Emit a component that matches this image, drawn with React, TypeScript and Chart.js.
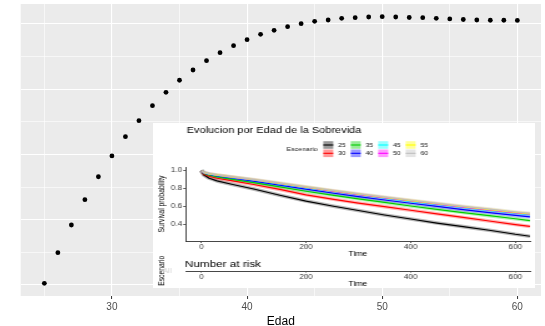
import React, { useEffect, useRef } from 'react';
import { Chart, registerables } from 'chart.js';

Chart.register(...registerables);

const FONT = "'Liberation Sans', Arial, Helvetica, sans-serif";

// ---- main scatter (Edad) ----
const edades = [25, 26, 27, 28, 29, 30, 31, 32, 33, 34, 35, 36, 37, 38, 39, 40, 41, 42, 43, 44, 45, 46, 47, 48, 49, 50, 51, 52, 53, 54, 55, 56, 57, 58, 59, 60];
const valores = [1.026, 1.495, 1.919, 2.306, 2.658, 2.976, 3.271, 3.516, 3.746, 3.951, 4.135, 4.292, 4.435, 4.557, 4.665, 4.756, 4.839, 4.9, 4.956, 5.002, 5.038, 5.058, 5.084, 5.093, 5.104, 5.109, 5.104, 5.096, 5.093, 5.084, 5.074, 5.066, 5.058, 5.054, 5.054, 5.051];
const ejeXTicks = [25, 30, 35, 40, 45, 50, 55, 60];
const ejeYGrid = [1, 1.5, 2, 2.5, 3, 3.5, 4, 4.5, 5];
const tituloX = 'Edad';

// ---- inset survival plot ----
const tituloInset = 'Evolucion por Edad de la Sobrevida';
const leyendaTitulo = 'Escenario';
const escenarios = ['25', '30', '35', '40', '45', '50', '55', '60'];
const colores = ['#000000', '#FF0000', '#00CD00', '#0000FF', '#00FFFF', '#FF00FF', '#FFFF00', '#BEBEBE'];
const tiempos = [0, 5, 15, 30, 60, 100, 150, 200, 250, 300, 350, 400, 450, 500, 550, 600, 628];
const surv25 = [1.0, 0.95, 0.915, 0.885, 0.845, 0.795, 0.725, 0.66, 0.605, 0.555, 0.505, 0.46, 0.415, 0.375, 0.335, 0.29, 0.268];
const surv30 = [1.0, 0.96, 0.937, 0.915, 0.885, 0.845, 0.79, 0.73, 0.682, 0.638, 0.598, 0.558, 0.518, 0.478, 0.438, 0.398, 0.377];
const surv35 = [1.0, 0.968, 0.95, 0.93, 0.902, 0.866, 0.818, 0.77, 0.727, 0.685, 0.645, 0.605, 0.568, 0.532, 0.497, 0.463, 0.443];
const surv40 = [1.0, 0.972, 0.956, 0.94, 0.915, 0.882, 0.838, 0.793, 0.75, 0.71, 0.672, 0.636, 0.6, 0.565, 0.532, 0.5, 0.485];
const surv45 = [1.0, 0.975, 0.96, 0.946, 0.922, 0.892, 0.85, 0.808, 0.767, 0.728, 0.69, 0.655, 0.62, 0.586, 0.554, 0.522, 0.507];
const surv50 = [1.0, 0.976, 0.962, 0.948, 0.925, 0.895, 0.854, 0.812, 0.772, 0.733, 0.696, 0.661, 0.626, 0.592, 0.56, 0.528, 0.513];
const surv55 = [1.0, 0.977, 0.963, 0.95, 0.927, 0.898, 0.857, 0.816, 0.776, 0.737, 0.7, 0.665, 0.63, 0.597, 0.565, 0.533, 0.518];
const surv60 = [1.0, 0.978, 0.964, 0.951, 0.929, 0.9, 0.86, 0.819, 0.779, 0.741, 0.704, 0.669, 0.635, 0.602, 0.57, 0.538, 0.523];
const survTicksY = [0.4, 0.6, 0.8, 1.0];
const tiempoTicks = [0, 200, 400, 600];
const tituloTiempo = 'Time';
const tituloSurvY = 'Survival probability';

// ---- risk table ----
const tituloRiesgo = 'Number at risk';
const riesgoEstratos = ['All'];

const series = [surv25, surv30, surv35, surv40, surv45, surv50, surv55, surv60];

function hexA(hex: string, a: number) {
  const n = parseInt(hex.slice(1), 16);
  return `rgba(${(n >> 16) & 255},${(n >> 8) & 255},${n & 255},${a})`;
}

const panelBg = {
  id: 'panelBg',
  beforeDraw(chart: any) {
    const { ctx, chartArea } = chart;
    ctx.save();
    ctx.fillStyle = '#EBEBEB';
    ctx.fillRect(chartArea.left, chartArea.top, chartArea.right - chartArea.left, chartArea.bottom - chartArea.top);
    ctx.restore();
  },
};

const survDecor = {
  id: 'survDecor',
  afterDraw(chart: any) {
    const ctx = chart.ctx;
    ctx.save();
    ctx.textBaseline = 'middle';
    ctx.textAlign = 'left';
    ctx.fillStyle = '#000';
    ctx.font = `8.8px ${FONT}`;
    ctx.fillText(tituloInset, 27, 7.5);
    ctx.font = `5.6px ${FONT}`;
    ctx.fillStyle = '#1A1A1A';
    ctx.textAlign = 'right';
    ctx.fillText(leyendaTitulo, 131.9, 26.3);
    escenarios.forEach((lab, g) => {
      const col = Math.floor(g / 2);
      const row = g % 2;
      const x = 136.4 + col * 22;
      const yc = 22 + row * 8.3;
      ctx.fillStyle = hexA(colores[g], 0.4);
      ctx.fillRect(x, yc - 3.8, 8, 7.6);
      ctx.strokeStyle = colores[g];
      ctx.lineWidth = 1.1;
      ctx.beginPath();
      ctx.moveTo(x, yc);
      ctx.lineTo(x + 8, yc);
      ctx.stroke();
      ctx.fillStyle = '#1A1A1A';
      ctx.textAlign = 'left';
      ctx.fillText(lab, x + 11.8, yc);
    });
    ctx.restore();
  },
};

const riskDecor = {
  id: 'riskDecor',
  afterDraw(chart: any) {
    const ctx = chart.ctx;
    ctx.save();
    ctx.textBaseline = 'middle';
    ctx.textAlign = 'left';
    ctx.fillStyle = '#000';
    ctx.font = `9.4px ${FONT}`;
    ctx.fillText(tituloRiesgo, 25.6, 14);
    ctx.restore();
  },
};

export default function App() {
  const mainRef = useRef<HTMLCanvasElement>(null);
  const survRef = useRef<HTMLCanvasElement>(null);
  const riskRef = useRef<HTMLCanvasElement>(null);

  useEffect(() => {
    Chart.defaults.font.family = FONT;

    const main = new Chart(mainRef.current as HTMLCanvasElement, {
      type: 'scatter',
      data: {
        datasets: [
          {
            data: edades.map((x, i) => ({ x, y: valores[i] })),
            pointRadius: 2.4,
            pointBackgroundColor: '#000',
            pointBorderColor: '#000',
            pointBorderWidth: 0,
          },
        ],
      },
      options: {
        responsive: false,
        animation: false,
        layout: { padding: { top: 4, left: 0, right: 0, bottom: 0 } },
        plugins: { legend: { display: false }, tooltip: { enabled: false } },
        scales: {
          x: {
            type: 'linear',
            min: 23.25,
            max: 61.75,
            afterBuildTicks: (s: any) => {
              s.ticks = ejeXTicks.map((v) => ({ value: v }));
            },
            afterFit: (s: any) => {
              s.height = 30;
            },
            ticks: {
              autoSkip: false,
              maxRotation: 0,
              padding: 2.4,
              color: '#4D4D4D',
              font: { size: 10, family: FONT },
              callback: (v: any) => (Number(v) % 10 === 0 ? String(v) : ''),
            },
            grid: {
              color: '#FFFFFF',
              lineWidth: (c: any) => (c.tick && c.tick.value % 10 === 0 ? 1.1 : 0.6),
              drawTicks: true,
              tickLength: 3,
              tickWidth: 1,
              tickColor: (c: any) => (c.tick && c.tick.value % 10 === 0 ? '#333333' : 'rgba(0,0,0,0)'),
            },
            border: { display: false },
            title: {
              display: true,
              text: tituloX,
              color: '#000',
              font: { size: 12, family: FONT, lineHeight: 1 },
              padding: { top: 0, bottom: -2 },
            },
          },
          y: {
            type: 'linear',
            min: 0.8315,
            max: 5.303,
            afterBuildTicks: (s: any) => {
              s.ticks = ejeYGrid.map((v) => ({ value: v }));
            },
            afterFit: (s: any) => {
              s.width = 20.7;
            },
            ticks: { display: false },
            grid: {
              color: '#FFFFFF',
              lineWidth: (c: any) => (c.tick && Number.isInteger(c.tick.value) ? 1.1 : 0.6),
              drawTicks: false,
            },
            border: { display: false },
          },
        },
      } as any,
      plugins: [panelBg],
    });

    const datasets: any[] = [];
    series.forEach((arr, g) => {
      datasets.push({
        data: tiempos.map((t, j) => ({ x: t, y: arr[j] })),
        showLine: true,
        borderColor: hexA(colores[g], 0.28),
        borderWidth: 3.6,
        pointRadius: 0,
        borderJoinStyle: 'round',
        order: 200 - g,
      });
      datasets.push({
        data: tiempos.map((t, j) => ({ x: t, y: arr[j] })),
        showLine: true,
        borderColor: colores[g],
        borderWidth: 1.2,
        pointRadius: 0,
        borderJoinStyle: 'round',
        order: 100 - g,
      });
    });

    const surv = new Chart(survRef.current as HTMLCanvasElement, {
      type: 'scatter',
      data: { datasets },
      options: {
        responsive: false,
        animation: false,
        layout: { padding: { top: 44, right: 4, left: 0, bottom: 0 } },
        plugins: { legend: { display: false }, tooltip: { enabled: false } },
        scales: {
          x: {
            type: 'linear',
            min: -29.8,
            max: 628,
            afterBuildTicks: (s: any) => {
              s.ticks = tiempoTicks.map((v) => ({ value: v }));
            },
            afterFit: (s: any) => {
              s.height = 18;
            },
            ticks: { autoSkip: false, maxRotation: 0, padding: 0.4, color: '#333', font: { size: 6.5, family: FONT } },
            grid: { drawOnChartArea: false, drawTicks: true, tickLength: 2, tickColor: '#333', tickWidth: 0.8 },
            border: { display: true, color: '#333', width: 0.9 },
            title: {
              display: true,
              text: tituloTiempo,
              color: '#000',
              font: { size: 7, family: FONT, lineHeight: 1 },
              padding: { top: 0, bottom: 1.2 },
            },
          },
          y: {
            type: 'linear',
            min: 0.215,
            max: 1.04,
            afterBuildTicks: (s: any) => {
              s.ticks = survTicksY.map((v) => ({ value: v }));
            },
            afterFit: (s: any) => {
              s.width = 26.2;
            },
            ticks: {
              padding: 0.8,
              color: '#333',
              font: { size: 6.5, family: FONT },
              callback: (v: any) => Number(v).toFixed(1),
            },
            grid: { drawOnChartArea: false, drawTicks: true, tickLength: 2, tickColor: '#333', tickWidth: 0.8 },
            border: { display: true, color: '#333', width: 0.9 },
            title: {
              display: true,
              text: tituloSurvY,
              color: '#000',
              font: { size: 6.8, family: FONT },
              padding: { top: 3.1, bottom: 0 },
            },
          },
        },
      } as any,
      plugins: [survDecor],
    });

    const risk = new Chart(riskRef.current as HTMLCanvasElement, {
      type: 'scatter',
      data: { datasets: [] },
      options: {
        responsive: false,
        animation: false,
        layout: { padding: { top: 20, right: 4, left: 0, bottom: 0 } },
        plugins: { legend: { display: false }, tooltip: { enabled: false } },
        scales: {
          x: {
            type: 'linear',
            min: -29.8,
            max: 628,
            afterBuildTicks: (s: any) => {
              s.ticks = tiempoTicks.map((v) => ({ value: v }));
            },
            afterFit: (s: any) => {
              s.height = 16.5;
            },
            ticks: { autoSkip: false, maxRotation: 0, padding: 0.6, color: '#333', font: { size: 6.5, family: FONT } },
            grid: { drawOnChartArea: false, drawTicks: true, tickLength: 1, tickColor: '#333', tickWidth: 0.8 },
            border: { display: true, color: '#333', width: 0.9 },
            title: {
              display: true,
              text: tituloTiempo,
              color: '#000',
              font: { size: 7, family: FONT, lineHeight: 1 },
              padding: { top: 0, bottom: 0 },
            },
          },
          y: {
            type: 'category',
            labels: riesgoEstratos,
            offset: true,
            afterFit: (s: any) => {
              s.width = 26.2;
            },
            ticks: { padding: 3.2, color: '#D3D3D3', font: { size: 6.5, family: FONT } },
            grid: { display: false },
            border: { display: false },
            title: {
              display: true,
              text: leyendaTitulo,
              color: '#000',
              font: { size: 6.8, family: FONT },
              padding: { top: 2.7, bottom: 0 },
            },
          },
        },
      } as any,
      plugins: [riskDecor],
    });

    return () => {
      main.destroy();
      surv.destroy();
      risk.destroy();
    };
  }, []);

  return (
    <div style={{ position: 'fixed', left: 0, top: 0, width: 545, height: 326, background: '#fff', overflow: 'hidden' }}>
      <canvas
        ref={mainRef}
        width={545}
        height={326}
        style={{ position: 'absolute', left: 0, top: 0, width: '545px', height: '326px' }}
      />
      <div style={{ position: 'absolute', left: 153, top: 123, width: 382, height: 164.5, background: '#fff' }} />
      <canvas
        ref={survRef}
        width={306}
        height={136}
        style={{ position: 'absolute', left: 153, top: 123, width: '382px', height: '136px' }}
      />
      <canvas
        ref={riskRef}
        width={306}
        height={38}
        style={{ position: 'absolute', left: 153, top: 250, width: '382px', height: '38px' }}
      />
    </div>
  );
}
